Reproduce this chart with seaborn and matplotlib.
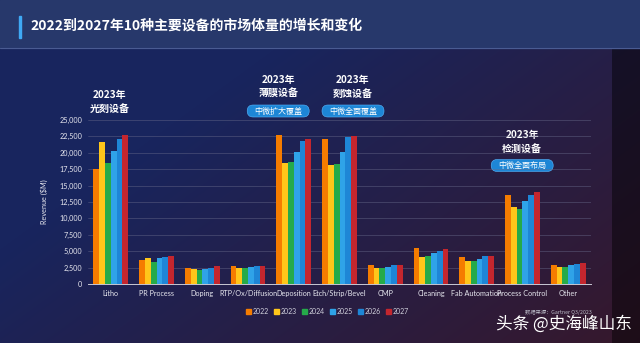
import numpy as np
import pandas as pd
import matplotlib
matplotlib.use("Agg")
import matplotlib.pyplot as plt
from matplotlib.patches import Rectangle, FancyBboxPatch
import seaborn as sns

categories = ["Litho", "PR Process", "Doping", "RTP/Ox/Diffusion", "Deposition",
              "Etch/Strip/Bevel", "CMP", "Cleaning", "Fab Automation",
              "Process Control", "Other"]
years = ["2022", "2023", "2024", "2025", "2026", "2027"]
v2022 = [17500, 3650, 2450, 2800, 22750, 22050, 2900, 5450, 4150, 13500, 2950]
v2023 = [21600, 4000, 2350, 2400, 18400, 18200, 2400, 4150, 3450, 11700, 2600]
v2024 = [18500, 3400, 2200, 2400, 18650, 18250, 2400, 4250, 3500, 11500, 2650]
v2025 = [20300, 3900, 2350, 2600, 20100, 20100, 2600, 4650, 3800, 12600, 2850]
v2026 = [22100, 4100, 2500, 2700, 21850, 22350, 2850, 5050, 4300, 13500, 3050]
v2027 = [22700, 4300, 2700, 2700, 22150, 22500, 2950, 5300, 4300, 14000, 3150]
yticks = [0, 2500, 5000, 7500, 10000, 12500, 15000, 17500, 20000, 22500, 25000]
colors = ["#f57c00", "#ffc61a", "#25aa4a", "#2fa3e8", "#1e86d6", "#c4262e"]

title = "2022到2027年10种主要设备的市场体量的增长和变化"
notes = [("Litho", "2023年\n光刻设备", None),
         ("Deposition", "2023年\n薄膜设备", "中微扩大覆盖"),
         ("Etch/Strip/Bevel", "2023年\n刻蚀设备", "中微全面覆盖"),
         ("Process Control", "2023年\n检测设备", "中微全面布局")]

rows = []
for yr, vals in zip(years, [v2022, v2023, v2024, v2025, v2026, v2027]):
    for c, v in zip(categories, vals):
        rows.append({"Category": c, "Year": yr, "Revenue": v})
df = pd.DataFrame(rows)

sns.set_theme(style="white")
plt.rcParams["font.family"] = ["Noto Sans CJK SC", "DejaVu Sans"]
LAT = ["Lato", "Noto Sans CJK SC", "DejaVu Sans"]

W, H = 640, 343
fig = plt.figure(figsize=(W / 100, H / 100), dpi=100)

# background gradient
bg = fig.add_axes([0, 0, 1, 1])
xx, yy = np.meshgrid(np.linspace(0, 1, W), np.linspace(0, 1, H))
navy = np.array([0x18, 0x25, 0x5e]) / 255
maroon = np.array([0x3a, 0x16, 0x26]) / 255
t = np.clip(0.75 * xx + 0.55 * yy - 0.4, 0, 1)[..., None]
img = navy * (1 - t) + maroon * t
band = (xx > 0.957)[..., None]
img = np.where(band, img * 0.55, img)
bg.imshow(img, extent=[0, W, H, 0], aspect="auto")
bg.set_xlim(0, W)
bg.set_ylim(H, 0)
bg.axis("off")
bg.add_patch(Rectangle((0, 0), W, 48, color="#27386b"))
bg.plot([0, W], [48, 48], color="#4a5b92", lw=0.8)
bg.add_patch(Rectangle((18.5, 16), 2, 22, color="#3fa9f5"))
bg.text(30, 26, title, color="white", fontsize=10, fontweight="bold", va="center", ha="left")
bg.text(592, 312, "数据来源：Gartner Q3/2023", color="#b9b9c6", fontsize=3.8, ha="right", va="center")
bg.text(632, 324, "头条 @史海峰山东", color="white", fontsize=12, ha="right", va="center")

ax = fig.add_axes([88 / W, 1 - 284 / H, (591 - 88) / W, (284 - 120) / H])
ax.set_facecolor("none")
sns.barplot(data=df, x="Category", y="Revenue", hue="Year", order=categories,
            hue_order=years, palette=colors, width=0.76, gap=0,
            saturation=1, linewidth=0, ax=ax, legend=False)
ax.set_ylim(0, 25000)
ax.set_yticks(yticks)
ax.set_yticklabels([f"{v:,}" for v in yticks], family=LAT)
ax.set_xticks(range(len(categories)))
ax.set_xticklabels(categories, family=LAT)
ax.grid(axis="y", color="#6a6c8c", lw=0.5, alpha=0.6)
ax.set_axisbelow(True)
for s in ["top", "right", "left"]:
    ax.spines[s].set_visible(False)
ax.spines["bottom"].set_color("#c8c8d4")
ax.spines["bottom"].set_linewidth(0.7)
ax.tick_params(axis="both", colors="#e6e6ee", labelsize=5.2, length=0, pad=4)
ax.set_xlabel("")
ax.set_ylabel("Revenue ($M)", color="#e6e6ee", fontsize=5.2, labelpad=8, family=LAT)
ax.set_xlim(-0.5, len(categories) - 0.5)

# annotations (positions in pixel coords of background axis)
cat_x = {c: 110 + i * 45.8 for i, c in enumerate(categories)}
offsets = {"Litho": (0, 95, None), "Deposition": (-15, 80, 111),
           "Etch/Strip/Bevel": (14, 80, 111), "Process Control": (0, 135, 165.5)}
for cat, txt, box in notes:
    dx, ty, by = offsets[cat]
    x = cat_x[cat] + dx
    l1, l2 = txt.split("\n")
    bg.text(x, ty, l1, color="white", fontsize=7.2, fontweight="bold", ha="center", va="center")
    bg.text(x, ty + 14, l2, color="white", fontsize=7.2, fontweight="bold", ha="center", va="center")
    if box:
        bg.add_patch(FancyBboxPatch((x - 31, by - 6), 62, 12,
                                    boxstyle="round,pad=0,rounding_size=6",
                                    fc="#1d86d6", ec="#5ab8ff", lw=0.4))
        bg.text(x, by, box, color="white", fontsize=5.8, ha="center", va="center")

# legend
handles = [Rectangle((0, 0), 1, 1, color=c) for c in colors]
fig.legend(handles, years, loc="center left", bbox_to_anchor=(240 / W, 1 - 311 / H),
           ncol=6, frameon=False, fontsize=5, labelcolor="#d0d0dc",
           handlelength=0.7, handleheight=0.7, handletextpad=0.2, columnspacing=0.8,
           prop={"family": LAT, "size": 5})

fig.savefig("out.png", dpi=100)
